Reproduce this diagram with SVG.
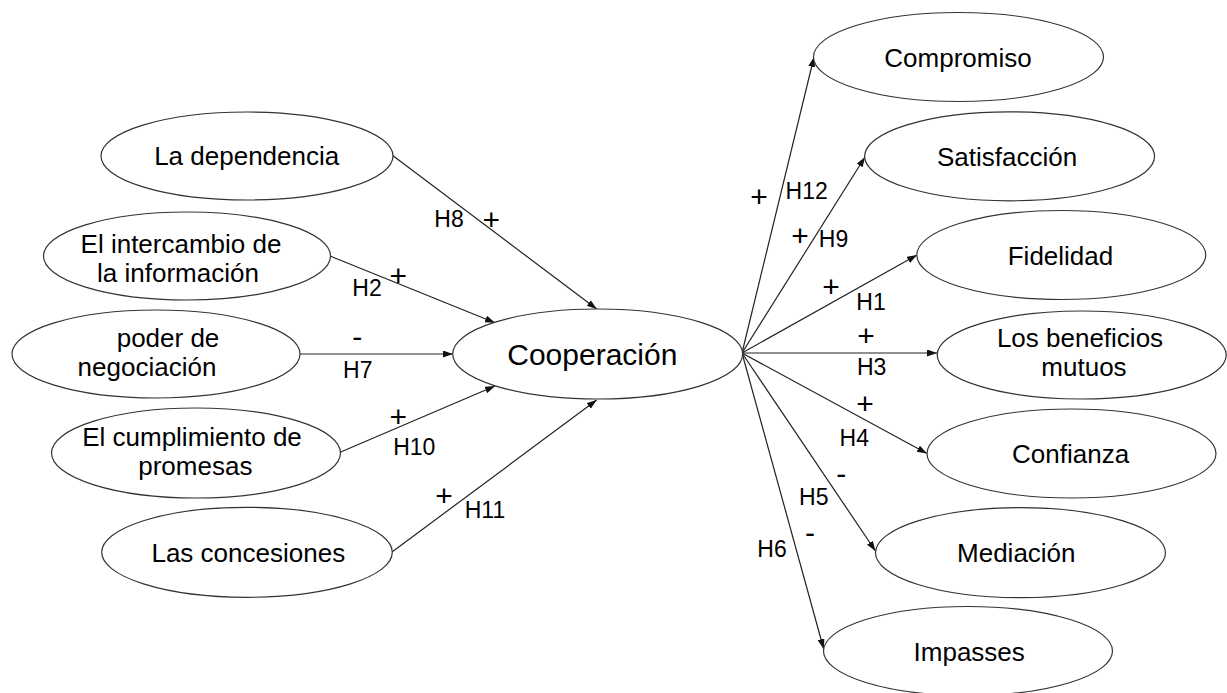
<svg xmlns="http://www.w3.org/2000/svg" width="1227" height="693" viewBox="0 0 1227 693">
<style>
.n ellipse{fill:#fff;stroke:#333;stroke-width:1.2}
.n text{font-family:"Liberation Sans",Arial,sans-serif;font-size:26px;fill:#000;text-anchor:middle}
#cooperacion text{font-size:30px}
.c line{stroke:#222;stroke-width:1.2;fill:none}
.lb{font-family:"Liberation Sans",Arial,sans-serif;font-size:23px;fill:#000;text-anchor:middle}
.sg{font-family:"Liberation Sans",Arial,sans-serif;font-size:30px;fill:#000;text-anchor:middle}
</style>
<defs>
<marker id="ah" markerUnits="userSpaceOnUse" markerWidth="11" markerHeight="8" refX="10" refY="3.5" orient="auto">
<path d="M0,0 L10,3.5 L0,7 z" fill="#111"/>
</marker>
</defs>
<rect width="1227" height="693" fill="#fff"/>
<g class="c" id="connectors">
<line x1="392" y1="155" x2="596.7" y2="309" marker-end="url(#ah)"/>
<line x1="330" y1="256" x2="495" y2="322.7" marker-end="url(#ah)"/>
<line x1="300" y1="354" x2="453" y2="354" marker-end="url(#ah)"/>
<line x1="340.7" y1="452" x2="495" y2="386" marker-end="url(#ah)"/>
<line x1="392" y1="552" x2="596.7" y2="400" marker-end="url(#ah)"/>
<line x1="742" y1="353" x2="814" y2="57" marker-end="url(#ah)"/>
<line x1="742" y1="353" x2="865" y2="157" marker-end="url(#ah)"/>
<line x1="742" y1="353" x2="917" y2="255" marker-end="url(#ah)"/>
<line x1="742" y1="353" x2="937" y2="353" marker-end="url(#ah)"/>
<line x1="742" y1="353" x2="927" y2="453.5" marker-end="url(#ah)"/>
<line x1="742" y1="353" x2="875.5" y2="551" marker-end="url(#ah)"/>
<line x1="742" y1="353" x2="823.7" y2="649" marker-end="url(#ah)"/>
</g>
<g id="labels">
<text class="lb" x="449" y="227">H8</text>
<text class="sg" x="491.3" y="230.4">+</text>
<text class="sg" x="398.3" y="285.6">+</text>
<text class="lb" x="367" y="296">H2</text>
<text class="sg" x="357.3" y="346.5">-</text>
<text class="lb" x="357.8" y="378.3">H7</text>
<text class="sg" x="398.3" y="426.6">+</text>
<text class="lb" x="414.3" y="455">H10</text>
<text class="sg" x="444" y="505.6">+</text>
<text class="lb" x="485" y="518.3">H11</text>
<text class="sg" x="759" y="207.3">+</text>
<text class="lb" x="806.7" y="199.3">H12</text>
<text class="sg" x="800" y="245.6">+</text>
<text class="lb" x="833.5" y="246.7">H9</text>
<text class="sg" x="831" y="296.6">+</text>
<text class="lb" x="871" y="310">H1</text>
<text class="sg" x="866" y="345.6">+</text>
<text class="lb" x="871.7" y="375">H3</text>
<text class="sg" x="865" y="413.6">+</text>
<text class="lb" x="854.3" y="446">H4</text>
<text class="sg" x="841.3" y="484.4">-</text>
<text class="lb" x="813.8" y="505">H5</text>
<text class="sg" x="810" y="543.4">-</text>
<text class="lb" x="772" y="557.3">H6</text>
</g>
<g class="n" id="dependencia"><ellipse cx="247" cy="156" rx="146" ry="44"/><text x="246.7" y="165">La dependencia</text></g>
<g class="n" id="intercambio"><ellipse cx="187" cy="256" rx="143.5" ry="44"/><text x="181" y="253">El intercambio de</text><text x="178" y="282">la información</text></g>
<g class="n" id="poder"><ellipse cx="156" cy="354" rx="144" ry="44"/><text x="168" y="347">poder de</text><text x="147" y="376">negociación</text></g>
<g class="n" id="cumplimiento"><ellipse cx="196" cy="453" rx="144.5" ry="45"/><text x="192" y="446">El cumplimiento de</text><text x="195.3" y="475">promesas</text></g>
<g class="n" id="concesiones"><ellipse cx="247" cy="552.3" rx="145.3" ry="45"/><text x="248.3" y="562">Las concesiones</text></g>
<g class="n" id="cooperacion"><ellipse cx="597.7" cy="354" rx="145" ry="45"/><text x="592.3" y="365">Cooperación</text></g>
<g class="n" id="compromiso"><ellipse cx="958.5" cy="57" rx="145" ry="44.5"/><text x="958" y="66.5">Compromiso</text></g>
<g class="n" id="satisfaccion"><ellipse cx="1009.6" cy="156.3" rx="145" ry="44.5"/><text x="1007" y="165.5">Satisfacción</text></g>
<g class="n" id="fidelidad"><ellipse cx="1061.3" cy="255" rx="144.5" ry="44.5"/><text x="1060.5" y="264.5">Fidelidad</text></g>
<g class="n" id="beneficios"><ellipse cx="1081.7" cy="355" rx="144.5" ry="44"/><text x="1080" y="346.5">Los beneficios</text><text x="1084" y="375.5">mutuos</text></g>
<g class="n" id="confianza"><ellipse cx="1071.5" cy="453.5" rx="144.5" ry="44.5"/><text x="1070.6" y="463">Confianza</text></g>
<g class="n" id="mediacion"><ellipse cx="1020.5" cy="552.7" rx="145" ry="45"/><text x="1016.3" y="562">Mediación</text></g>
<g class="n" id="impasses"><ellipse cx="968" cy="651" rx="144.5" ry="44.5"/><text x="969.2" y="660.5">Impasses</text></g>
</svg>
